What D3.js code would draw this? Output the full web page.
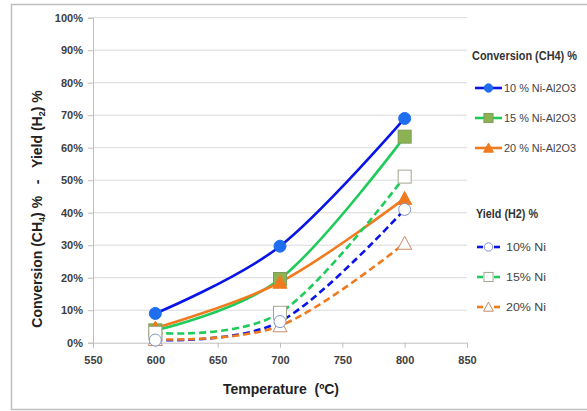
<!DOCTYPE html>
<html><head><meta charset="utf-8">
<script src="https://cdn.jsdelivr.net/npm/d3@7"></script>
<style>body{margin:0;background:#fff}svg{display:block;font-family:"Liberation Sans",Arial,sans-serif}</style>
</head><body><svg id="c" width="587" height="411"></svg>
<script>
const temps = [600, 700, 800];
const conv10 = [9.0, 29.7, 69.0];
const conv15 = [3.8, 19.6, 63.4];
const conv20 = [4.5, 18.6, 44.4];
const yield10 = [0.8, 6.5, 41.0];
const yield15 = [3.0, 9.2, 51.1];
const yield20 = [1.0, 5.2, 30.6];
const xTicks = [550, 600, 650, 700, 750, 800, 850];
const yTicks = [0,10,20,30,40,50,60,70,80,90,100];
const seriesNames = ["10 % Ni-Al2O3","15 % Ni-Al2O3","20 % Ni-Al2O3","10% Ni","15% Ni","20% Ni"];

const svg = d3.select("#c");
const x = d3.scaleLinear().domain([550,850]).range([93,467]);
const y = d3.scaleLinear().domain([0,100]).range([342.7,17.7]);

svg.append("rect").attr("x",11.5).attr("y",4.5).attr("width",620).attr("height",405)
  .attr("fill","#fff").attr("stroke","#bfbfbf").attr("stroke-width",1.5);

svg.append("g").selectAll("line").data(yTicks.slice(1)).join("line")
  .attr("x1",x(550)).attr("x2",x(850)).attr("y1",d=>y(d)).attr("y2",d=>y(d))
  .attr("stroke","#d9d9d9").attr("stroke-width",1);

const yAxis = svg.append("g").attr("transform",`translate(${x(550)},0)`)
  .call(d3.axisLeft(y).tickValues(yTicks).tickFormat(d=>d+"%").tickSize(5).tickPadding(5));
const xAxis = svg.append("g").attr("transform",`translate(0,${y(0)})`)
  .call(d3.axisBottom(x).tickValues(xTicks).tickSize(5).tickPadding(9));
[yAxis,xAxis].forEach(a=>{
  a.select(".domain").attr("stroke","#bfbfbf");
  a.selectAll(".tick line").attr("stroke","#bfbfbf");
  a.selectAll("text").attr("font-size",11).attr("font-weight","bold").attr("fill","#404040")
   .attr("font-family","'Liberation Sans',Arial,sans-serif");
});

const series = [
  {name:seriesNames[0], v:conv10, color:"#0a14e6", fill:"#1f6ef0", stroke:"#1f6ef0", marker:"circle", dash:null},
  {name:seriesNames[1], v:conv15, color:"#1fcc5a", fill:"#8db253", stroke:"#7d9e58", marker:"square", dash:null},
  {name:seriesNames[2], v:conv20, color:"#f07a1e", fill:"#f07a1e", stroke:"#f07a1e", marker:"triangle", dash:null},
  {name:seriesNames[3], v:yield10, color:"#0a14e6", fill:"#fff", stroke:"#8494c8", marker:"circle", dash:"7,4"},
  {name:seriesNames[4], v:yield15, color:"#1fcc5a", fill:"#fff", stroke:"#a0a890", marker:"square", dash:"7,4"},
  {name:seriesNames[5], v:yield20, color:"#f07a1e", fill:"#fff", stroke:"#c48a6a", marker:"triangle", dash:"7,4"}
];

const line = d3.line().x(d=>x(d[0])).y(d=>y(d[1])).curve(d3.curveCardinal.tension(0));
function drawMarker(g, type, cx, cy, fill, stroke, s){
  if(type==="circle") g.append("circle").attr("cx",cx).attr("cy",cy).attr("r",6*s).attr("fill",fill).attr("stroke",stroke).attr("stroke-width",1);
  else if(type==="square") g.append("rect").attr("x",cx-6.5*s).attr("y",cy-6.5*s).attr("width",13*s).attr("height",13*s).attr("fill",fill).attr("stroke",stroke).attr("stroke-width",1);
  else g.append("path").attr("d",`M${cx},${cy-7*s}L${cx+7*s},${cy+6*s}L${cx-7*s},${cy+6*s}Z`).attr("fill",fill).attr("stroke",stroke).attr("stroke-width",1);
}
series.forEach(s=>{
  const pts = temps.map((t,i)=>[t,s.v[i]]);
  svg.append("path").attr("d",line(pts)).attr("fill","none").attr("stroke",s.color)
    .attr("stroke-width",2.6).attr("stroke-dasharray",s.dash);
});
[0,1,2,5,4,3].forEach(k=>{
  const s = series[k];
  const g = svg.append("g");
  temps.forEach((t,i)=>drawMarker(g,s.marker,x(t),y(s.v[i]),s.fill,s.stroke,1));
});

// axis titles
const yt = svg.append("text").attr("transform",`translate(42,209) rotate(-90)`).attr("text-anchor","middle")
  .attr("font-size",14).attr("font-weight","bold").attr("fill","#222").attr("xml:space","preserve")
  .style("white-space","pre");
yt.append("tspan").text("Conversion (CH");
yt.append("tspan").attr("font-size",9).attr("dy",3).text("4");
yt.append("tspan").attr("dy",-3).text(") %\u00a0\u00a0\u00a0-\u00a0\u00a0\u00a0Yield (H");
yt.append("tspan").attr("font-size",9).attr("dy",3).text("2");
yt.append("tspan").attr("dy",-3).text(") %");

svg.append("text").attr("x",281).attr("y",394).attr("text-anchor","middle")
  .attr("font-size",14).attr("font-weight","bold").attr("fill","#222").text("Temperature\u00a0 (ºC)");

// legend
const lg = svg.append("g");
lg.append("text").attr("x",472).attr("y",60).attr("font-size",12).attr("font-weight","bold")
  .attr("fill","#333").attr("textLength",105).attr("lengthAdjust","spacingAndGlyphs").text("Conversion (CH4) %");
lg.append("text").attr("x",476).attr("y",218).attr("font-size",12.5).attr("font-weight","bold")
  .attr("fill","#333").attr("textLength",62).attr("lengthAdjust","spacingAndGlyphs").text("Yield (H2) %");
const itemY = [88, 118, 148, 247, 277, 307];
series.forEach((s,i)=>{
  const cy = itemY[i];
  const g = lg.append("g");
  if(!s.dash){
    g.append("line").attr("x1",475).attr("x2",502).attr("y1",cy).attr("y2",cy).attr("stroke",s.color).attr("stroke-width",2.6);
  } else {
    g.append("line").attr("x1",477).attr("x2",483).attr("y1",cy).attr("y2",cy).attr("stroke",s.color).attr("stroke-width",2.6);
    g.append("line").attr("x1",494).attr("x2",500).attr("y1",cy).attr("y2",cy).attr("stroke",s.color).attr("stroke-width",2.6);
  }
  drawMarker(g,s.marker,488.5,cy,s.fill,s.stroke,0.7);
  g.append("text").attr("x",i<3?504:506).attr("y",cy+4).attr("font-size",10.5).attr("fill","#444")
    .attr("textLength",i<3?72:40).attr("lengthAdjust","spacingAndGlyphs").text(s.name);
});
</script></body></html>
